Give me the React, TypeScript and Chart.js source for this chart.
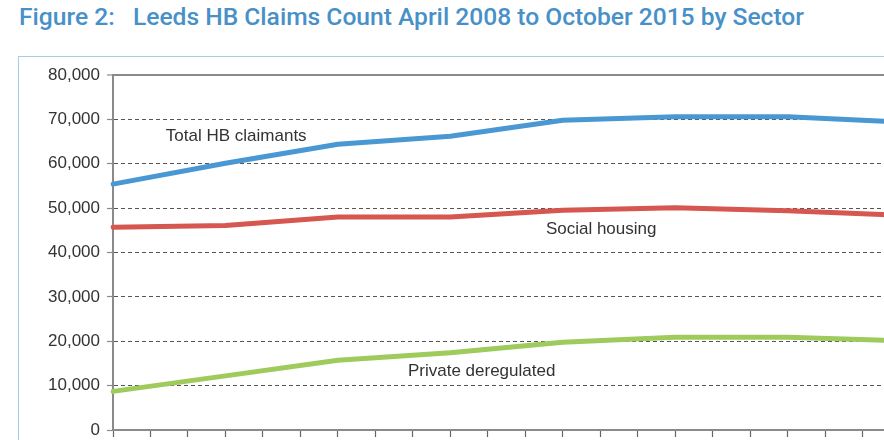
import React, { useEffect, useLayoutEffect, useRef } from 'react';
import { Chart, registerables } from 'chart.js';

Chart.register(...registerables);

const TITLE = 'Figure 2:   Leeds HB Claims Count April 2008 to October 2015 by Sector';

// Quarterly category ticks, April 2008 .. October 2015
const categories = [
  'Apr 2008', 'Jul 2008', 'Oct 2008',
  'Jan 2009', 'Apr 2009', 'Jul 2009', 'Oct 2009',
  'Jan 2010', 'Apr 2010', 'Jul 2010', 'Oct 2010',
  'Jan 2011', 'Apr 2011', 'Jul 2011', 'Oct 2011',
  'Jan 2012', 'Apr 2012', 'Jul 2012', 'Oct 2012',
  'Jan 2013', 'Apr 2013', 'Jul 2013', 'Oct 2013',
  'Jan 2014', 'Apr 2014', 'Jul 2014', 'Oct 2014',
  'Jan 2015', 'Apr 2015', 'Jul 2015', 'Oct 2015',
];

const _ = null;
const totalHB = [55400, _, _, 60100, _, _, 64400, _, _, 66200, _, _, 69800, _, _, 70600, _, _, 70600, _, _, 69400, _, _, _, _, _, _, _, _, _];
const socialHousing = [45700, _, _, 46100, _, _, 48000, _, _, 48000, _, _, 49500, _, _, 50100, _, _, 49400, _, _, 48400, _, _, _, _, _, _, _, _, _];
const privateDereg = [8700, _, _, 12200, _, _, 15700, _, _, 17400, _, _, 19800, _, _, 20900, _, _, 20900, _, _, 20100, _, _, _, _, _, _, _, _, _];

const yTicks = [0, 10000, 20000, 30000, 40000, 50000, 60000, 70000, 80000];

const seriesLabels = [
  { text: 'Total HB claimants', x: 1.41, y: 66100 },
  { text: 'Social housing', x: 11.55, y: 45200 },
  { text: 'Private deregulated', x: 7.87, y: 13200 },
];

const CANVAS_W = 1260;
const CANVAS_H = 480;

const inlineLabels = {
  id: 'inlineLabels',
  afterDatasetsDraw(chart: any) {
    const { ctx, scales } = chart;
    ctx.save();
    ctx.fillStyle = '#333333';
    ctx.font = '17px "Liberation Sans", Arial, sans-serif';
    ctx.textAlign = 'left';
    ctx.textBaseline = 'middle';
    for (const l of seriesLabels) {
      ctx.fillText(l.text, scales.x.getPixelForValue(l.x), scales.y.getPixelForValue(l.y));
    }
    ctx.restore();
  },
};

export default function App() {
  const canvasRef = useRef<HTMLCanvasElement | null>(null);
  const titleRef = useRef<HTMLSpanElement | null>(null);

  useLayoutEffect(() => {
    const t = titleRef.current;
    if (t) {
      t.style.transform = 'none';
      const w = t.getBoundingClientRect().width;
      if (w > 0) t.style.transform = `scaleX(${785 / w})`;
    }
  }, []);

  useEffect(() => {
    if (!canvasRef.current) return;
    const chart = new Chart(canvasRef.current, {
      type: 'line',
      data: {
        labels: categories,
        datasets: [
          { label: 'Total HB claimants', data: totalHB, borderColor: '#4a98d3' },
          { label: 'Social housing', data: socialHousing, borderColor: '#d65650' },
          { label: 'Private deregulated', data: privateDereg, borderColor: '#9fca5c' },
        ].map((d) => ({
          ...d,
          borderWidth: 5,
          tension: 0,
          pointRadius: 0,
          pointHoverRadius: 0,
          spanGaps: true,
          fill: false,
          borderCapStyle: 'round' as const,
          borderJoinStyle: 'round' as const,
        })),
      },
      options: {
        responsive: false,
        animation: false,
        devicePixelRatio: 1,
        layout: { padding: { top: 75, right: CANVAS_W - (113 + 30 * 37.48), bottom: CANVAS_H - 430 - 10, left: 0 } },
        plugins: { legend: { display: false }, tooltip: { enabled: false }, title: { display: false } },
        scales: {
          x: {
            type: 'category',
            offset: false,
            ticks: { display: false },
            grid: { drawOnChartArea: false, drawTicks: true, tickLength: 7, tickColor: '#666', tickWidth: 1.2 },
            border: { display: true, color: '#8a8a8a', width: 2 },
            afterFit: (s: any) => { s.height = 10; },
          },
          y: {
            min: 0,
            max: 80000,
            afterBuildTicks: (s: any) => { s.ticks = yTicks.map((v) => ({ value: v })); },
            ticks: {
              color: '#333333',
              padding: 7,
              font: { family: '"Liberation Sans", Arial, sans-serif', size: 17 },
              callback: (v: any) => Number(v).toLocaleString('en-US'),
            },
            grid: {
              color: (c: any) => (c.tick && c.tick.value === 80000 ? '#8a8a8a' : '#555555'),
              lineWidth: (c: any) => (c.tick && c.tick.value === 80000 ? 2 : 1),
              tickLength: 6,
              tickColor: '#8a8a8a',
              tickWidth: 1.2,
            },
            border: {
              display: true,
              color: '#8a8a8a',
              width: 2,
              dash: (c: any) => (!c.tick || c.tick.value === 80000 || c.tick.value === 0 ? [] : [4, 3]),
            },
            afterFit: (s: any) => { s.width = 113; },
          },
        },
      },
      plugins: [inlineLabels],
    } as any);
    return () => chart.destroy();
  }, []);

  return (
    <div style={{ position: 'fixed', left: 0, top: 0, width: 884, height: 440, overflow: 'hidden', background: '#ffffff' }}>
      <div
        style={{
          position: 'absolute', left: 19, top: 3, whiteSpace: 'pre', lineHeight: '30px',
          font: '500 24px Roboto, "DejaVu Sans Condensed", sans-serif', color: '#4790c8',
        }}
      >
        <span ref={titleRef} style={{ display: 'inline-block', transformOrigin: 'left center' }}>{TITLE}</span>
      </div>
      <div
        style={{
          position: 'absolute', left: 18, top: 56, width: 1000, height: 600,
          border: '1.5px solid #a3cdea', boxSizing: 'border-box',
        }}
      />
      <canvas
        ref={canvasRef}
        width={CANVAS_W}
        height={CANVAS_H}
        style={{ position: 'absolute', left: 0, top: 0, width: CANVAS_W, height: CANVAS_H }}
      />
    </div>
  );
}
